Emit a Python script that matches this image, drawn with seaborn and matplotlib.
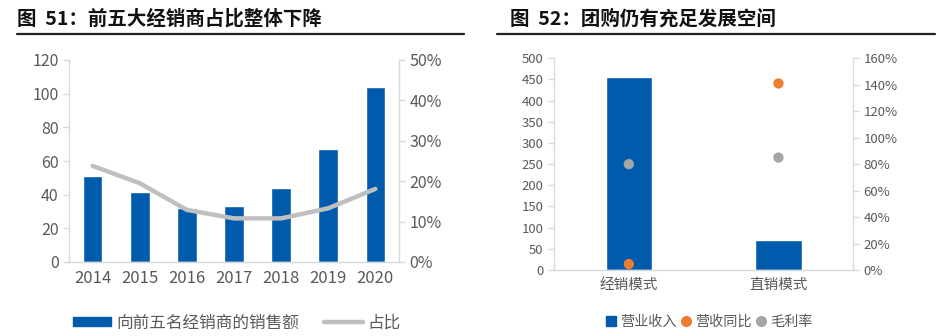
import numpy as np
import pandas as pd
import matplotlib
matplotlib.use("Agg")
import matplotlib.pyplot as plt
from matplotlib.lines import Line2D
from matplotlib.patches import Patch
from matplotlib.ticker import FuncFormatter, MultipleLocator
import seaborn as sns

sns.set_theme(style="white")
plt.rcParams["font.family"] = ["Noto Sans CJK SC", "DejaVu Sans"]

# ---- data: top-5 distributors ----
years = ["2014", "2015", "2016", "2017", "2018", "2019", "2020"]
top5_sales = [51, 41.5, 32, 33.3, 44.2, 67, 104.2]
top5_share = [0.238, 0.195, 0.129, 0.108, 0.108, 0.133, 0.181]

# ---- data: channel comparison ----
channels = ["经销模式", "直销模式"]
revenue = [455, 71]
revenue_yoy = [0.045, 1.41]
gross_margin = [0.80, 0.85]

BLUE = "#005BAC"
LGRAY = "#BFBFBF"
ORANGE = "#ED7D31"
DGRAY = "#A5A5A5"
TXT = "#595959"
SPINE = "#D9D9D9"

fig = plt.figure(figsize=(9.49, 3.36), dpi=100)

# titles with rules underneath
fig.text(17 / 949, 1 - 19 / 336, "图  51：前五大经销商占比整体下降", fontsize=14,
         fontweight="bold", color="#111111", va="center", ha="left")
fig.text(510 / 949, 1 - 19 / 336, "图  52：团购仍有充足发展空间", fontsize=14,
         fontweight="bold", color="#111111", va="center", ha="left")
fig.add_artist(Line2D([17 / 949, 464 / 949], [1 - 34 / 336] * 2, color="#222222", lw=1.6))
fig.add_artist(Line2D([497 / 949, 935 / 949], [1 - 34 / 336] * 2, color="#222222", lw=1.6))


def style_axes(ax, tick_size, xtick_size):
    ax.spines["top"].set_visible(False)
    for s in ["left", "right", "bottom"]:
        ax.spines[s].set_color(SPINE)
        ax.spines[s].set_linewidth(1.0)
    ax.tick_params(colors=TXT, labelsize=tick_size, length=4, width=1, color=SPINE)
    ax.tick_params(axis="x", length=0, pad=6, labelsize=xtick_size)
    ax.set_xlabel("")
    ax.set_ylabel("")


# ---- left chart ----
df1 = pd.DataFrame({"year": years, "sales": top5_sales, "share": top5_share})
ax1 = fig.add_axes([69 / 949, 1 - 262 / 336, 330 / 949, 202 / 336])
sns.barplot(data=df1, x="year", y="sales", color=BLUE, width=0.42, saturation=1, ax=ax1)
ax1.set_ylim(0, 120)
ax1.yaxis.set_major_locator(MultipleLocator(20))
ax1.set_xlim(-0.5, len(years) - 0.5)
style_axes(ax1, 11.5, 12)
ax1.spines["right"].set_visible(False)

ax1r = ax1.twinx()
sns.lineplot(x=np.arange(len(df1)), y=df1["share"], color=LGRAY, lw=3.2,
             solid_capstyle="round", solid_joinstyle="round", ax=ax1r)
ax1r.set_ylim(0, 0.5)
ax1r.yaxis.set_major_locator(MultipleLocator(0.1))
ax1r.yaxis.set_major_formatter(FuncFormatter(lambda v, p: f"{v * 100:.0f}%"))
style_axes(ax1r, 11.5, 12)
ax1r.spines["left"].set_visible(False)
ax1r.spines["bottom"].set_visible(False)

fig.legend(handles=[Patch(color=BLUE, label="向前五名经销商的销售额"),
                    Line2D([], [], color=LGRAY, lw=3.2, label="占比")],
           loc="center", bbox_to_anchor=(237 / 949, 1 - 323 / 336), ncol=2, frameon=False,
           fontsize=12, labelcolor=TXT, handlelength=2.3, handleheight=0.4,
           columnspacing=1.5, handletextpad=0.3)

# ---- right chart ----
df2 = pd.DataFrame({"channel": channels, "revenue": revenue,
                    "yoy": revenue_yoy, "margin": gross_margin})
ax2 = fig.add_axes([554 / 949, 1 - 270 / 336, 299.3 / 949, 211.7 / 336])
sns.barplot(data=df2, x="channel", y="revenue", color=BLUE, width=0.31, saturation=1, ax=ax2)
ax2.set_ylim(0, 500)
ax2.yaxis.set_major_locator(MultipleLocator(50))
ax2.set_xlim(-0.5, len(channels) - 0.5)
style_axes(ax2, 9.5, 10.5)
ax2.spines["right"].set_visible(False)

ax2r = ax2.twinx()
xpos = np.arange(len(df2))
sns.scatterplot(x=xpos, y=df2["yoy"], color=ORANGE, s=55, edgecolor="none", ax=ax2r, zorder=3)
sns.scatterplot(x=xpos, y=df2["margin"], color=DGRAY, s=55, edgecolor="none", ax=ax2r, zorder=3)
ax2r.set_ylim(0, 1.6)
ax2r.set_xlim(-0.5, len(channels) - 0.5)
ax2r.yaxis.set_major_locator(MultipleLocator(0.2))
ax2r.yaxis.set_major_formatter(FuncFormatter(lambda v, p: f"{v * 100:.0f}%"))
style_axes(ax2r, 9.5, 10.5)
ax2r.spines["left"].set_visible(False)
ax2r.spines["bottom"].set_visible(False)

fig.legend(handles=[Line2D([], [], marker="s", ls="none", color=BLUE, markersize=7, label="营业收入"),
                    Line2D([], [], marker="o", ls="none", color=ORANGE, markersize=7, label="营收同比"),
                    Line2D([], [], marker="o", ls="none", color=DGRAY, markersize=7, label="毛利率")],
           loc="center", bbox_to_anchor=(709 / 949, 1 - 322 / 336), ncol=3, frameon=False,
           fontsize=10.2, labelcolor=TXT, handlelength=0.7, handletextpad=0.3,
           columnspacing=0.3)

fig.savefig("out.png", dpi=100, facecolor="white")
